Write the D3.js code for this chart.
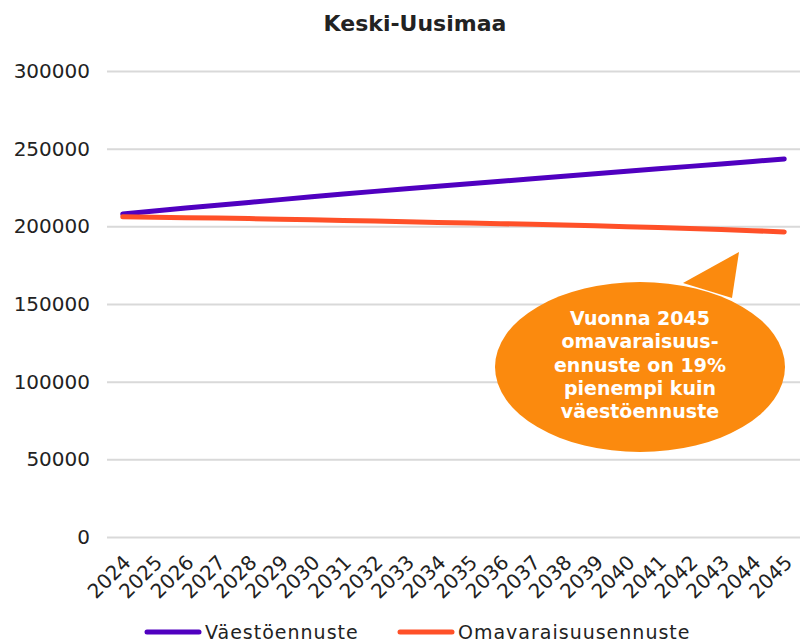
<!DOCTYPE html>
<html>
<head>
<meta charset="utf-8">
<script src="https://cdn.jsdelivr.net/npm/d3@7"></script>
<style>
  body { margin: 0; background: #fff; }
  text { font-family: "DejaVu Sans", sans-serif; fill: #222; }
</style>
</head>
<body>
<svg id="chart"></svg>
<script>
// years on the category axis
const years = ["2024","2025","2026","2027","2028","2029","2030","2031","2032","2033","2034",
               "2035","2036","2037","2038","2039","2040","2041","2042","2043","2044","2045"];

// population forecast
const vaesto = [208000, 209900, 211800, 213600, 215400, 217200, 219000, 220800, 222500, 224200, 225800,
                227400, 229000, 230600, 232200, 233800, 235400, 237000, 238600, 240200, 241800, 243400];

// self-sufficiency forecast
const omavarais = [206100, 205900, 205600, 205300, 205000, 204600, 204200, 203800, 203400, 203000, 202500,
                   202100, 201700, 201300, 200800, 200300, 199800, 199200, 198600, 197900, 197200, 196400];

const yTicks = [0, 50000, 100000, 150000, 200000, 250000, 300000];

const series = [
    {name: "Väestöennuste",        values: vaesto,    color: "#5000c0"},
    {name: "Omavaraisuusennuste",  values: omavarais, color: "#ff5028"}
];

const calloutLines = ["Vuonna 2045", "omavaraisuus-", "ennuste on 19%", "pienempi kuin", "väestöennuste"];

const width = 800, height = 642;
const margin = {top: 71, right: 0, bottom: 105, left: 107};

const svg = d3.select("#chart")
    .attr("width", width)
    .attr("height", height);

const x = d3.scalePoint()
    .domain(years)
    .range([margin.left, width - margin.right])
    .padding(0.5);

const y = d3.scaleLinear()
    .domain([0, 300000])
    .range([height - margin.bottom, margin.top]);

// title
svg.append("text")
    .attr("x", 415)
    .attr("y", 31)
    .attr("text-anchor", "middle")
    .style("font-size", "22px")
    .style("font-weight", "bold")
    .text("Keski-Uusimaa");

// gridlines + y labels
const yAxis = svg.append("g")
    .attr("transform", `translate(${margin.left},0)`)
    .call(d3.axisLeft(y).tickValues(yTicks).tickSize(-(width - margin.left - margin.right)).tickPadding(17).tickFormat(d3.format("d")));
yAxis.select(".domain").remove();
yAxis.selectAll(".tick line").attr("stroke", "#d9d9d9").attr("stroke-width", 2);
yAxis.selectAll(".tick text")
    .style("font-size", "20px")
    .style("font-family", "DejaVu Sans")
    .attr("fill", "#222");

// x labels, rotated
const xAxis = svg.append("g")
    .attr("transform", `translate(0,${height - margin.bottom})`)
    .call(d3.axisBottom(x).tickSize(0));
xAxis.select(".domain").remove();
xAxis.selectAll(".tick text")
    .style("font-size", "20px")
    .style("font-family", "DejaVu Sans")
    .attr("fill", "#222")
    .attr("text-anchor", "end")
    .attr("dy", null)
    .attr("y", 0)
    .attr("x", 0)
    .attr("dominant-baseline", "hanging")
    .attr("transform", "translate(-2,16) rotate(-45)");

// lines
const line = d3.line()
    .x((d, i) => x(years[i]))
    .y(d => y(d));

svg.selectAll("path.series")
    .data(series)
    .enter()
    .append("path")
    .attr("class", "series")
    .attr("d", d => line(d.values))
    .attr("fill", "none")
    .attr("stroke", d => d.color)
    .attr("stroke-width", 5)
    .attr("stroke-linecap", "round")
    .attr("stroke-linejoin", "round");

// callout bubble
const cx = 640, cy = 367, rx = 145, ry = 85;
const bubble = svg.append("g");
bubble.append("path")
    .attr("d", "M683,283 L739,252 L732,298 Z")
    .attr("fill", "#fb8a0e");
bubble.append("ellipse")
    .attr("cx", cx).attr("cy", cy)
    .attr("rx", rx).attr("ry", ry)
    .attr("fill", "#fb8a0e");
bubble.selectAll("text")
    .data(calloutLines)
    .enter()
    .append("text")
    .attr("x", cx)
    .attr("y", (d, i) => 325 + i * 23.3)
    .attr("text-anchor", "middle")
    .style("fill", "#fff")
    .style("font-size", "19px")
    .style("font-weight", "bold")
    .text(d => d);

// legend
const legendPos = [147, 400];
const legend = svg.selectAll("g.legend")
    .data(series)
    .enter()
    .append("g")
    .attr("class", "legend")
    .attr("transform", (d, i) => `translate(${legendPos[i]},632)`);
legend.append("line")
    .attr("x1", 0).attr("x2", 52)
    .attr("stroke", d => d.color)
    .attr("stroke-width", 5)
    .attr("stroke-linecap", "round");
legend.append("text")
    .attr("x", 58)
    .attr("y", 7)
    .style("font-size", "19px")
    .style("letter-spacing", "1px")
    .text(d => d.name);
</script>
</body>
</html>
